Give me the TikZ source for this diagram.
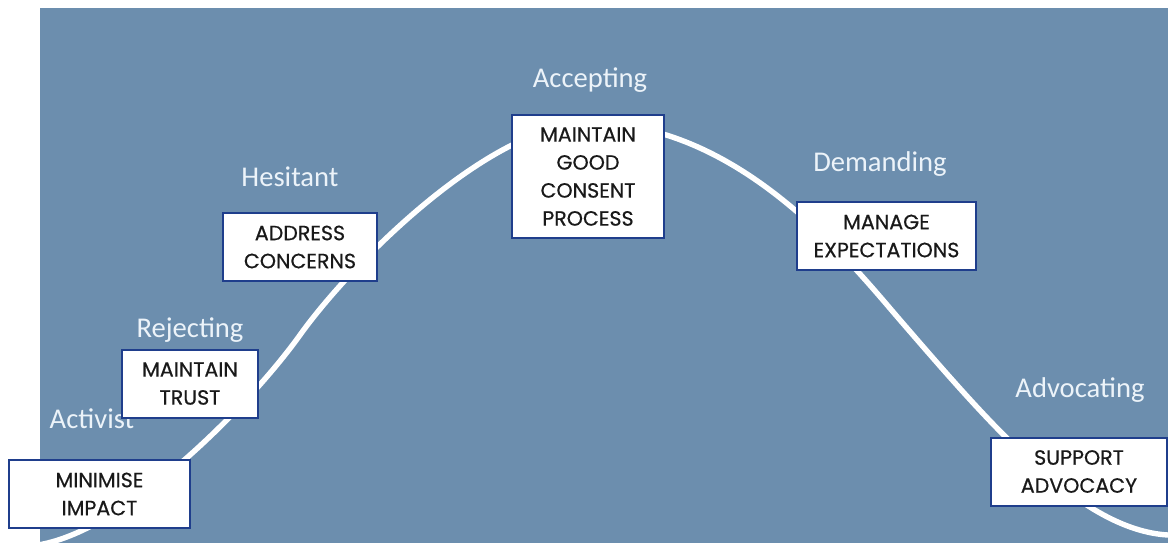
\documentclass[tikz,border=0pt]{standalone}
\usepackage{fontspec}
\setmainfont{Carlito}
\newfontfamily\boxfont[FakeBold=0.5]{Poppins}
\definecolor{slate}{RGB}{108,142,174}
\definecolor{edge}{RGB}{31,62,140}
\definecolor{pale}{RGB}{236,243,249}
\begin{document}
\begin{tikzpicture}[x=0.5pt,y=-0.5pt,
  box/.style={draw=edge,line width=1pt,fill=white,align=center,inner sep=0pt,minimum height=34pt,text=black!90,font=\boxfont\fontsize{10.3}{14}\selectfont},
  stage/.style={text=pale,anchor=base,font=\fontsize{14.3}{17}\selectfont}]
\useasboundingbox (0,0) rectangle (1168,543);
\fill[slate] (40,8) rectangle (1168,543);

\draw[white,line width=2.7pt] (30,546) .. controls (120,538) and (250,405) .. (300,335)
  .. controls (350,265) and (490,123) .. (590,123)
  .. controls (740,123) and (850,262) .. (900,320)
  .. controls (990,424) and (1080,530) .. (1168,535);

\node[stage] (activist) at (92,428) {Activist};
\node[stage] (rejecting) at (190,337) {Rejecting};
\node[stage] (hesitant) at (290,186) {Hesitant};
\node[stage] (accepting) at (590,87) {Accepting};
\node[stage] (demanding) at (880,171) {Demanding};
\node[stage] (advocating) at (1080,397) {Advocating};

\node[box,minimum width=90.5pt] (minimise) at (99.5,494) {MINIMISE\\IMPACT};
\node[box,minimum width=68pt] (trust) at (190,383.5) {MAINTAIN\\TRUST};
\node[box,minimum width=77pt] (concerns) at (300,247) {ADDRESS\\CONCERNS};
\node[box,minimum width=76pt,minimum height=61.5pt] (consent) at (588,176.5) {MAINTAIN\\GOOD\\CONSENT\\PROCESS};
\node[box,minimum width=89.5pt] (expect) at (886.5,236) {MANAGE\\EXPECTATIONS};
\node[box,minimum width=88pt] (advocacy) at (1079,471.5) {SUPPORT\\ADVOCACY};
\end{tikzpicture}
\end{document}
